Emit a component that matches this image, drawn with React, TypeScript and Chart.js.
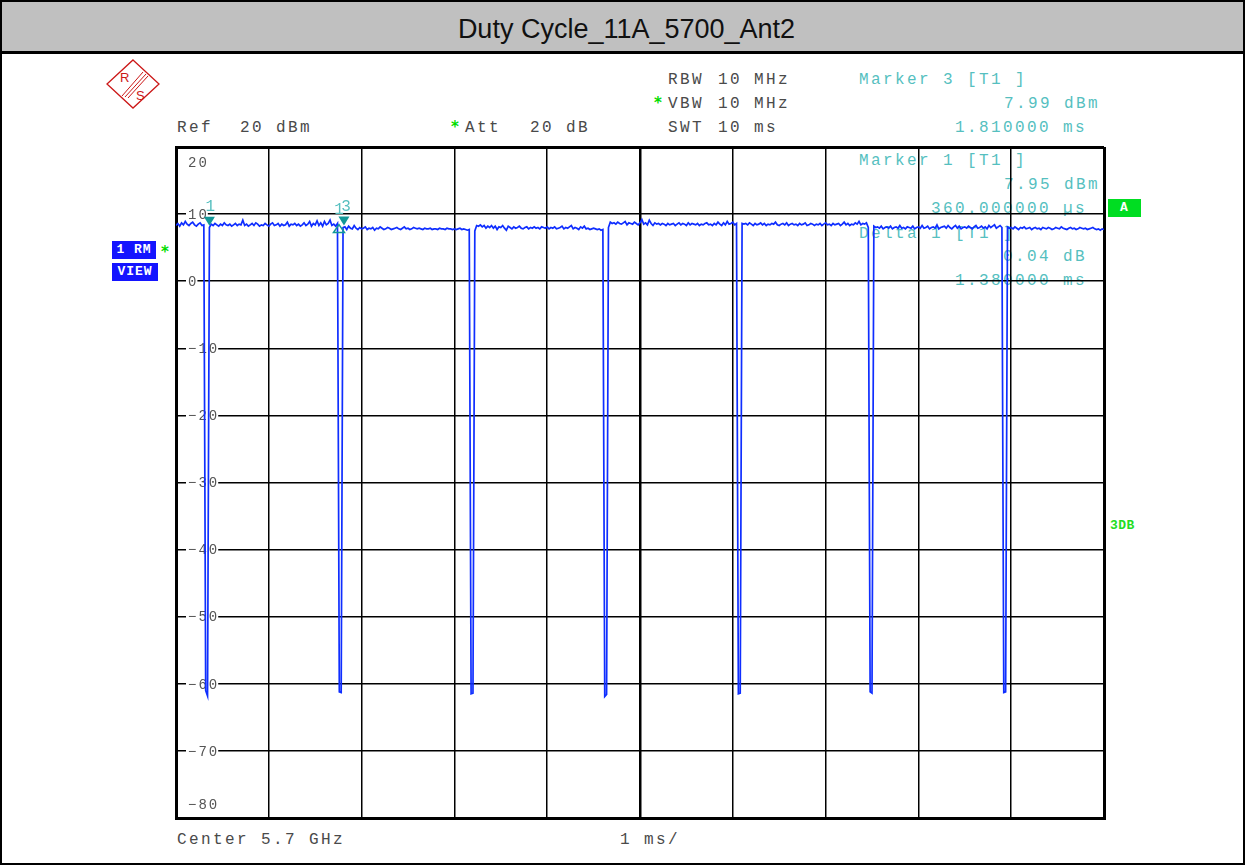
import React, { useEffect, useRef } from 'react';
import { Chart, registerables } from 'chart.js';

Chart.register(...registerables);

// ---- data -------------------------------------------------------------
const SWEEP_MS = 10;
const xTickValues = [0, 1, 2, 3, 4, 5, 6, 7, 8, 9, 10];
const yTickValues = [20, 10, 0, -10, -20, -30, -40, -50, -60, -70, -80];
const yTickLabels = ['20', '10', '0', '\u221210', '\u221220', '\u221230', '\u221240', '\u221250', '\u221260', '\u221270', '\u221280'];

// trace level (dBm), 501 sweep points across 10 ms
const traceDbm = [
  // 0 .. 0.30 ms
  8.3, 8.6, 8.2, 8.7, 8.4, 8.9, 8.5, 8.3, 8.6, 8.8, 8.4, 8.2, 8.5, 8.7, 8.3, 8.4,
  // pulse gap 1
  -61.0, -61.8,
  // 0.36 .. 1.74 ms
  8.0, 8.5, 8.3, 8.6, 8.4, 8.2, 8.5, 8.3, 8.7, 8.4,
  8.3, 8.5, 8.2, 8.4, 8.6, 8.3, 8.5, 8.4, 9.1, 8.3,
  8.5, 8.2, 8.4, 8.6, 8.3, 8.7, 8.5, 8.2, 8.4, 8.3,
  8.6, 8.4, 8.2, 8.5, 8.7, 8.3, 8.4, 8.6, 8.2, 8.5,
  8.3, 8.4, 8.8, 8.2, 8.5, 8.4, 8.6, 8.3, 8.5, 8.2,
  8.4, 8.7, 8.3, 8.5, 8.9, 8.2, 8.6, 8.4, 9.0, 8.3,
  8.7, 8.2, 8.9, 8.4, 8.6, 9.1, 8.3, 8.5, 8.2, 8.6,
  // pulse gap 2
  -61.2, -61.3,
  // 1.80 .. 3.16 ms
  7.99, 8.1, 7.7, 8.2, 7.9, 7.8, 8.3, 7.9, 7.7, 8.0,
  7.8, 7.9, 8.1, 7.7, 7.9, 7.8, 8.0, 7.6, 7.9, 7.8,
  8.1, 7.9, 7.7, 7.8, 8.0, 7.9, 7.7, 7.8, 7.9, 8.0,
  7.8, 7.7, 7.9, 8.1, 7.8, 7.9, 7.7, 7.8, 8.0, 7.9,
  7.8, 7.9, 7.8, 7.7, 7.9, 7.8, 7.8, 7.9, 7.7, 7.8,
  7.8, 7.7, 7.9, 7.8, 7.8, 7.7, 7.9, 7.8, 7.8, 7.7,
  7.8, 7.7, 7.8, 7.9, 7.7, 7.8, 7.7, 7.6, 7.7,
  // pulse gap 3
  -61.5, -61.4,
  // 3.22 .. 4.60 ms
  7.5, 8.3, 8.2, 8.4, 8.1, 8.3, 7.9, 8.2, 8.0, 8.3,
  7.9, 8.2, 7.7, 8.1, 8.0, 8.3, 7.9, 7.6, 8.2, 8.0,
  7.8, 8.1, 7.9, 8.0, 8.2, 7.9, 7.8, 8.0, 8.1, 7.8,
  8.0, 7.9, 8.1, 7.9, 8.0, 7.8, 8.1, 8.0, 7.9, 8.1,
  7.8, 8.0, 7.9, 8.1, 7.8, 7.9, 8.0, 8.2, 7.8, 8.0,
  7.9, 8.1, 8.3, 7.8, 8.0, 7.9, 7.7, 8.1, 7.9, 8.2,
  7.8, 7.9, 7.7, 7.8, 7.9, 7.8, 7.7, 7.8, 7.6, 7.7,
  // pulse gap 4
  -61.9, -61.6,
  // 4.66 .. 6.04 ms
  8.0, 8.8, 8.6, 8.7, 8.5, 8.8, 8.6, 8.5, 8.7, 8.9,
  8.4, 8.7, 8.6, 8.5, 8.8, 8.6, 8.4, 8.7, 9.2, 8.5,
  8.7, 8.4, 9.1, 8.6, 8.3, 8.7, 8.5, 8.6, 8.4, 8.6,
  8.5, 8.3, 8.6, 8.4, 8.5, 8.6, 8.3, 8.5, 8.7, 8.4,
  8.6, 8.5, 8.3, 8.7, 8.4, 8.6, 8.5, 8.4, 8.6, 8.3,
  8.5, 8.4, 8.6, 8.7, 8.4, 8.5, 8.3, 8.6, 8.4, 8.8,
  8.5, 8.3, 8.7, 8.4, 8.9, 8.5, 8.6, 8.8, 8.4, 8.6,
  // pulse gap 5
  -61.5, -61.4,
  // 6.10 .. 7.46 ms
  8.6, 8.5, 8.6, 8.4, 8.7, 8.5, 8.3, 8.6, 8.4, 8.5,
  8.7, 8.4, 8.6, 8.3, 8.5, 8.4, 8.6, 8.5, 8.8, 8.4,
  8.3, 8.5, 8.6, 8.4, 8.7, 8.3, 8.5, 8.6, 8.4, 8.5,
  8.3, 8.6, 8.4, 8.5, 8.7, 8.3, 8.4, 8.6, 8.5, 8.3,
  8.5, 8.4, 8.6, 8.3, 8.5, 8.7, 8.4, 8.5, 8.3, 8.6,
  8.4, 8.5, 8.6, 8.3, 8.5, 8.8, 8.4, 8.6, 8.3, 8.5,
  8.4, 8.7, 8.5, 8.9, 8.4, 8.6, 8.5, 8.7, 8.0,
  // pulse gap 6
  -61.2, -61.4,
  // 7.52 .. 8.90 ms
  8.2, 8.0, 8.1, 7.9, 8.2, 7.8, 8.0, 8.1, 7.9, 8.2,
  7.8, 8.0, 8.1, 7.9, 8.3, 7.9, 8.0, 7.8, 8.1, 8.0,
  7.9, 8.2, 7.8, 8.0, 8.1, 7.9, 8.3, 7.9, 8.0, 8.2,
  7.8, 8.0, 8.1, 7.9, 8.4, 7.8, 8.0, 8.1, 8.2, 7.9,
  8.3, 8.0, 7.8, 8.1, 8.3, 7.9, 8.2, 7.8, 8.0, 8.1,
  7.9, 8.2, 8.0, 7.8, 8.1, 8.3, 7.9, 8.0, 8.2, 7.9,
  8.1, 7.8, 8.3, 8.0, 8.2, 8.4, 7.9, 8.1, 8.3, 8.0,
  // pulse gap 7
  -61.3, -61.2,
  // 8.96 .. 10 ms
  8.1, 7.9, 8.0, 7.8, 8.1, 7.9, 7.7, 8.0, 7.9, 8.1,
  7.8, 7.9, 8.0, 7.7, 7.9, 8.0, 7.8, 7.9, 7.7, 8.0,
  7.9, 7.8, 8.0, 7.9, 7.7, 7.8, 8.0, 7.9, 7.8, 8.1,
  7.9, 7.8, 7.7, 7.9, 8.0, 7.8, 7.9, 7.7, 7.8, 8.0,
  7.9, 7.8, 7.9, 7.7, 7.8, 7.9, 8.0, 7.8, 7.7, 7.8,
  7.6, 7.8, 7.7,
];

// markers
const markerTimesMs = [0.36, 1.81];
const markerLevelsDbm = [7.95, 7.99];
const markerNames = ['1', '3'];
const deltaTimesMs = [1.74];
const deltaLevelsDbm = [7.99];
const deltaNames = ['1'];

// ---- styles -----------------------------------------------------------
const MONO = "'Liberation Mono', 'DejaVu Sans Mono', monospace";
const TEAL = '#56bfbf';
const TEAL_DARK = '#129898';
const GRAY_TEXT = '#4a4a4a';
const TRACE_BLUE = '#0f2eff';
const STAR_GREEN = '#00dd00';

const PLOT_LEFT = 176;
const PLOT_TOP = 147;
const PLOT_RIGHT = 1104;
const PLOT_BOTTOM = 818;
const CANVAS_LEFT = 168;
const CANVAS_TOP = 138;
const CANVAS_W = 946;
const CANVAS_H = 690;

function txtStyle(cy: number, color: string, extra: any = {}): any {
  return {
    position: 'absolute',
    top: cy - 7,
    fontFamily: MONO,
    fontSize: 16,
    lineHeight: '16px',
    letterSpacing: '2.4px',
    whiteSpace: 'pre',
    color,
    ...extra,
  };
}

function starStyle(cy: number, left: number): any {
  return {
    position: 'absolute',
    top: cy - 7,
    left,
    fontFamily: "'DejaVu Sans', sans-serif",
    fontWeight: 'bold',
    fontSize: 15,
    lineHeight: '16px',
    color: STAR_GREEN,
  };
}

const overlayPlugin = {
  id: 'rsOverlay',
  beforeDatasetsDraw(chart: any) {
    const ctx = chart.ctx;
    const ys = chart.scales.y;
    const area = chart.chartArea;
    ctx.save();
    ctx.font = `14px ${MONO}`;
    (ctx as any).letterSpacing = '2px';
    ctx.textBaseline = 'middle';
    ctx.textAlign = 'left';
    const last = yTickValues.length - 1;
    yTickValues.forEach((v, k) => {
      const label = yTickLabels[k];
      let py = ys.getPixelForValue(v);
      if (k === 0) py += 15;
      if (k === last) py -= 14;
      const lx = area.left + 12;
      const w = ctx.measureText(label).width;
      if (k !== 0 && k !== last) {
        ctx.fillStyle = '#ffffff';
        ctx.fillRect(lx - 2, py - 3, w + 1, 6);
      }
      ctx.fillStyle = '#555555';
      ctx.fillText(label, lx, py + 1);
    });
    ctx.restore();
  },
  afterDatasetsDraw(chart: any) {
    const ctx = chart.ctx;
    const xs = chart.scales.x;
    const ys = chart.scales.y;
    ctx.save();
    ctx.font = `16px ${MONO}`;
    ctx.textAlign = 'center';
    ctx.textBaseline = 'alphabetic';
    markerTimesMs.forEach((t, k) => {
      const px = xs.getPixelForValue(t);
      const py = ys.getPixelForValue(markerLevelsDbm[k]) - 2;
      ctx.fillStyle = TEAL_DARK;
      ctx.beginPath();
      ctx.moveTo(px - 5.5, py - 9);
      ctx.lineTo(px + 5.5, py - 9);
      ctx.lineTo(px, py);
      ctx.closePath();
      ctx.fill();
      ctx.fillStyle = TEAL;
      ctx.fillText(markerNames[k], px + (k === 1 ? 2 : 1), py - 15);
    });
    deltaTimesMs.forEach((t, k) => {
      const px = xs.getPixelForValue(t) + 1.5;
      const py = ys.getPixelForValue(deltaLevelsDbm[k]) - 2;
      ctx.strokeStyle = TEAL_DARK;
      ctx.lineWidth = 1.5;
      ctx.beginPath();
      ctx.moveTo(px, py - 1);
      ctx.lineTo(px + 5.5, py + 7);
      ctx.lineTo(px - 5.5, py + 7);
      ctx.closePath();
      ctx.stroke();
      ctx.fillStyle = TEAL;
      ctx.fillText(deltaNames[k], px, py - 12);
    });
    ctx.restore();
  },
};

function RsLogo() {
  const red = '#cc1818';
  return (
    <svg style={{ position: 'absolute', left: 100, top: 55 }} width={66} height={60}>
      <polygon points="33,5 59,29 33,53 7,29" fill="none" stroke={red} strokeWidth={1.3} />
      <text x={20} y={27} fontSize={13} fill={red} fontFamily="'Liberation Sans', sans-serif">R</text>
      <text x={36} y={45} fontSize={13} fill={red} fontFamily="'Liberation Sans', sans-serif">S</text>
      <line x1={22} y1={41} x2={43} y2={17} stroke={red} strokeWidth={1} />
      <line x1={25} y1={42} x2={46} y2={19} stroke={red} strokeWidth={1} />
      <line x1={28} y1={43} x2={48} y2={21} stroke={red} strokeWidth={1} />
    </svg>
  );
}

const boxStyle = (left: number, top: number, width: number, bg: string): any => ({
  position: 'absolute', left, top, width, height: 18, background: bg,
  color: '#fff', fontFamily: MONO, fontWeight: 'bold', fontSize: 13, lineHeight: '18px',
  letterSpacing: '1px', whiteSpace: 'pre', textAlign: 'center',
});

export default function App() {
  const canvasRef = useRef<HTMLCanvasElement | null>(null);

  useEffect(() => {
    if (!canvasRef.current) return;
    const points = traceDbm.map((v, i) => ({ x: (i * SWEEP_MS) / (traceDbm.length - 1), y: v }));
    const edgeX = (v: number) => (v === 0 || v === 10 ? 3 : v === 5 ? 2.5 : 1.5);
    const edgeY = (v: number) => (v === 20 || v === -80 ? 3 : 1.5);
    const chart = new Chart(canvasRef.current, {
      type: 'line',
      data: {
        datasets: [
          {
            data: points,
            borderColor: TRACE_BLUE,
            borderWidth: 1.7,
            pointRadius: 0,
            tension: 0,
            fill: false,
          },
        ],
      },
      options: {
        animation: false,
        responsive: false,
        maintainAspectRatio: false,
        layout: {
          padding: {
            left: PLOT_LEFT - CANVAS_LEFT,
            top: PLOT_TOP - CANVAS_TOP,
            right: CANVAS_LEFT + CANVAS_W - PLOT_RIGHT,
            bottom: CANVAS_TOP + CANVAS_H - PLOT_BOTTOM,
          },
        },
        plugins: { legend: { display: false }, tooltip: { enabled: false } },
        scales: {
          x: {
            type: 'linear',
            min: 0,
            max: SWEEP_MS,
            afterBuildTicks: (s: any) => {
              s.ticks = xTickValues.map((v) => ({ value: v }));
            },
            ticks: { display: false },
            grid: {
              drawTicks: false,
              color: '#000',
              lineWidth: (c: any) => edgeX(c.tick ? c.tick.value : -1),
            },
            border: { display: true, color: '#000', width: 3 },
          },
          y: {
            type: 'linear',
            min: -80,
            max: 20,
            afterBuildTicks: (s: any) => {
              s.ticks = yTickValues.map((v) => ({ value: v }));
            },
            ticks: { display: false },
            grid: {
              drawTicks: false,
              color: '#000',
              lineWidth: (c: any) => edgeY(c.tick ? c.tick.value : 0),
            },
            border: { display: true, color: '#000', width: 3 },
          },
        },
      } as any,
      plugins: [overlayPlugin as any],
    });
    return () => chart.destroy();
  }, []);

  return (
    <div
      style={{
        position: 'absolute',
        left: 0,
        top: 0,
        width: 1245,
        height: 865,
        boxSizing: 'border-box',
        border: '2px solid #000',
        background: '#fff',
        overflow: 'hidden',
      }}
    >
      <div
        style={{
          position: 'absolute',
          left: 0,
          top: 0,
          right: 0,
          height: 49,
          background: '#c0c0c0',
          borderBottom: '3px solid #000',
        }}
      />
      <div
        style={{
          position: 'absolute',
          left: 4,
          width: 1241,
          top: 14,
          textAlign: 'center',
          fontFamily: "'Liberation Sans', Arial, sans-serif",
          fontSize: 27,
          lineHeight: '26px',
          color: '#111',
        }}
      >
        Duty Cycle_11A_5700_Ant2
      </div>

      <div style={{ position: 'absolute', left: -2, top: -2, width: 1245, height: 865 }}>
        <RsLogo />

        {/* header settings */}
        <div style={txtStyle(78.5, GRAY_TEXT, { left: 668 })}>RBW</div>
        <div style={txtStyle(78.5, GRAY_TEXT, { left: 718 })}>10 MHz</div>
        <div style={starStyle(102, 654)}>*</div>
        <div style={txtStyle(103, GRAY_TEXT, { left: 668 })}>VBW</div>
        <div style={txtStyle(103, GRAY_TEXT, { left: 718 })}>10 MHz</div>
        <div style={txtStyle(127, GRAY_TEXT, { left: 668 })}>SWT</div>
        <div style={txtStyle(127, GRAY_TEXT, { left: 718 })}>10 ms</div>
        <div style={txtStyle(127, GRAY_TEXT, { left: 177 })}>Ref</div>
        <div style={txtStyle(127, GRAY_TEXT, { left: 240 })}>20 dBm</div>
        <div style={starStyle(126, 451)}>*</div>
        <div style={txtStyle(127, GRAY_TEXT, { left: 465 })}>Att</div>
        <div style={txtStyle(127, GRAY_TEXT, { left: 530 })}>20 dB</div>

        {/* marker info */}
        <div style={txtStyle(79, TEAL, { left: 859 })}>Marker 3 [T1 ]</div>
        <div style={txtStyle(103, TEAL, { right: 1245 - 1100 })}>7.99 dBm</div>
        <div style={txtStyle(127, TEAL, { right: 1245 - 1087 })}>1.810000 ms</div>
        <div style={txtStyle(160, TEAL, { left: 859 })}>Marker 1 [T1 ]</div>
        <div style={txtStyle(184, TEAL, { right: 1245 - 1100 })}>7.95 dBm</div>
        <div style={txtStyle(208, TEAL, { right: 1245 - 1087 })}>360.000000 µs</div>
        <div style={txtStyle(233, TEAL, { left: 859 })}>Delta 1 [T1 ]</div>
        <div style={txtStyle(256, TEAL, { right: 1245 - 1087 })}>0.04 dB</div>
        <div style={txtStyle(280, TEAL, { right: 1245 - 1087 })}>1.380000 ms</div>

        {/* side labels */}
        <div style={boxStyle(112, 241, 44, '#1414ff')}>1 RM</div>
        <div style={starStyle(251, 161)}>*</div>
        <div style={boxStyle(112, 263, 46, '#1414ff')}>VIEW</div>
        <div style={boxStyle(1108, 199, 33, '#00dd22')}>A</div>
        <div style={txtStyle(525, '#22dd22', { left: 1110, fontSize: 13, fontWeight: 'bold', letterSpacing: '0.5px' })}>3DB</div>

        {/* footer */}
        <div style={txtStyle(838.5, GRAY_TEXT, { left: 177 })}>Center 5.7 GHz</div>
        <div style={txtStyle(838.5, GRAY_TEXT, { left: 620 })}>1 ms/</div>

        <canvas
          ref={canvasRef}
          width={CANVAS_W}
          height={CANVAS_H}
          style={{ position: 'absolute', left: CANVAS_LEFT, top: CANVAS_TOP, width: CANVAS_W, height: CANVAS_H }}
        />
      </div>
    </div>
  );
}
